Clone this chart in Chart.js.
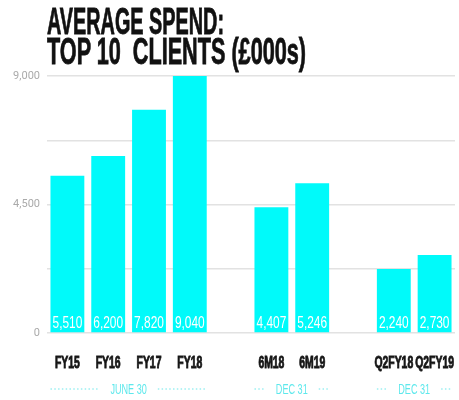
<!DOCTYPE html>
<html>
<head>
<meta charset="utf-8">
<script src="https://cdn.jsdelivr.net/npm/chart.js@4"></script>
<style>
  html, body { margin: 0; padding: 0; background: #fff; }
  #wrap { position: relative; width: 459px; height: 400px; }
  #title {
    position: absolute; left: 47px; top: 7px;
    font-family: 'Liberation Sans', Arial, sans-serif;
    font-weight: bold; font-size: 36px; line-height: 30px;
    color: #111; white-space: pre;
    -webkit-text-stroke: 0.8px #111;
  }
  #title span { display: inline-block; transform-origin: 0 0; }
</style>
</head>
<body>
<div id="wrap">
  <canvas id="spendChart" width="459" height="400"></canvas>
  <div id="title"><span data-w="177">AVERAGE SPEND:</span><br><span data-w="259">TOP 10  CLIENTS (£000s)</span></div>
</div>
<script>
// Average spend per period, top 10 clients (£000s); blanks split the periods
const categories = ['FY15', 'FY16', 'FY17', 'FY18', '', '6M18', '6M19', '', 'Q2FY18', 'Q2FY19'];
const spend = [5510, 6200, 7820, 9040, null, 4407, 5246, null, 2240, 2730];

// y axis: gridline every 2250, labels only on these
const yMax = 9000;
const yStep = 2250;
const yLabelled = [0, 4500, 9000];

// period bands under the category labels
const groupNames = ['JUNE 30', 'DEC 31', 'DEC 31'];
const groupStart = ['FY15', '6M18', 'Q2FY18'];
const groupEnd = ['FY18', '6M19', 'Q2FY19'];

const SANS = "'Liberation Sans', Arial, sans-serif";

// squeeze the title lines to their column width
document.querySelectorAll('#title span').forEach(function(span) {
    const w = span.getBoundingClientRect().width;
    span.style.transform = 'scaleX(' + (span.dataset.w / w) + ')';
});

// draw text squashed horizontally, returns drawn width
function condensedText(ctx, text, x, y, font, color, squeeze, align, stroke) {
    ctx.save();
    ctx.font = font;
    ctx.fillStyle = color;
    ctx.textBaseline = 'alphabetic';
    ctx.textAlign = 'left';
    const w = ctx.measureText(text).width * squeeze;
    ctx.translate(align === 'center' ? x - w / 2 : x, y);
    ctx.scale(squeeze, 1);
    ctx.fillText(text, 0, 0);
    if (stroke) {
        ctx.strokeStyle = color;
        ctx.lineWidth = stroke;
        ctx.strokeText(text, 0, 0);
    }
    ctx.restore();
    return w;
}

const labelPlugin = {
    id: 'spendLabels',
    afterDraw(chart) {
        const ctx = chart.ctx;
        const meta = chart.getDatasetMeta(0);
        const xScale = chart.scales.x;
        const area = chart.chartArea;

        // value at the foot of each bar
        meta.data.forEach(function(bar, i) {
            if (spend[i] == null) return;
            condensedText(ctx, spend[i].toLocaleString('en-US'), bar.x, bar.base - 4,
                '17px ' + SANS, '#ffffff', 0.7, 'center');
        });

        // category names
        categories.forEach(function(c, i) {
            if (!c) return;
            condensedText(ctx, c, xScale.getPixelForValue(i), area.bottom + 35,
                'bold 16px ' + SANS, '#161616', 0.65, 'center', 0.9);
        });

        // period bands with dotted leaders
        groupNames.forEach(function(name, g) {
            const a = meta.data[categories.indexOf(groupStart[g])];
            const b = meta.data[categories.indexOf(groupEnd[g])];
            const left = a.x - a.width / 2;
            const right = b.x + b.width / 2;
            const mid = (left + right) / 2;
            const y = area.bottom + 61;
            const w = condensedText(ctx, name, mid, y, '14px ' + SANS, '#5ee8ec', 0.65, 'center');

            ctx.save();
            ctx.strokeStyle = '#9cf0f2';
            ctx.lineWidth = 1.5;
            ctx.setLineDash([1.5, 2.3]);
            ctx.beginPath();
            ctx.moveTo(left, y - 5);
            ctx.lineTo(mid - w / 2 - 11, y - 5);
            ctx.moveTo(mid + w / 2 + 11, y - 5);
            ctx.lineTo(right, y - 5);
            ctx.stroke();
            ctx.restore();
        });
    }
};

const ctx = document.getElementById('spendChart').getContext('2d');
const spendChart = new Chart(ctx, {
    type: 'bar',
    data: {
        labels: categories,
        datasets: [{
            data: spend,
            backgroundColor: '#00fafa',
            borderWidth: 0,
            barPercentage: 0.83,
            categoryPercentage: 1,
            clip: 0
        }]
    },
    options: {
        responsive: false,
        animation: false,
        devicePixelRatio: 1,
        layout: {
            padding: { top: 76, right: 4, bottom: 59, left: 0 }
        },
        plugins: {
            legend: { display: false },
            tooltip: { enabled: false }
        },
        scales: {
            x: {
                grid: { display: false },
                border: { display: false },
                ticks: { display: false }
            },
            y: {
                min: 0,
                max: yMax,
                border: { display: false },
                grid: { color: '#e2e2e2', lineWidth: 1.5, drawTicks: false },
                ticks: {
                    stepSize: yStep,
                    padding: 7,
                    color: '#aaaaaa',
                    font: { family: 'Roboto', size: 11 },
                    callback: function(v) {
                        return yLabelled.includes(v) ? v.toLocaleString('en-US') : '';
                    }
                },
                afterFit: function(scale) { scale.width = 47; }
            }
        }
    },
    plugins: [labelPlugin]
});
</script>
</body>
</html>
